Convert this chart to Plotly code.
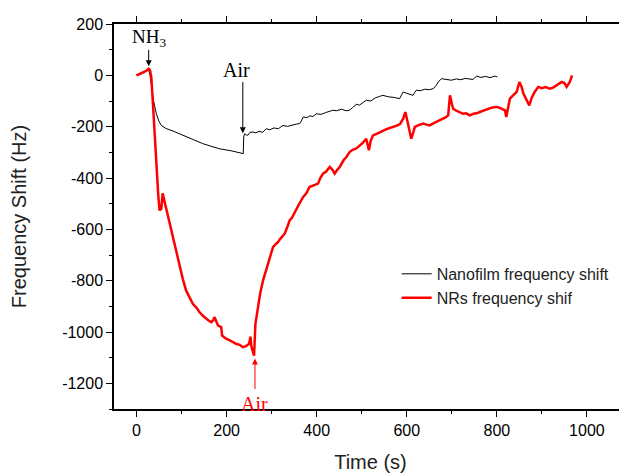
import plotly.graph_objects as go

# Nanofilm frequency shift (black)
film_t = [0, 10, 20, 27, 30, 33, 38, 44, 50, 55, 65, 81, 95, 110, 130, 147, 165, 184, 210, 236, 237, 238, 240, 244, 247, 252, 259, 265, 272, 280, 288, 296, 305, 315, 325, 335, 345, 355, 362, 366, 370, 378, 385, 392, 399, 410, 420, 430, 436, 444, 455, 465, 473, 480, 488, 495, 503, 510, 520, 530, 540, 547, 560, 572, 584, 588, 592, 600, 607, 614, 618, 621, 630, 640, 650, 659, 665, 670, 677, 690, 699, 710, 720, 730, 740, 747, 755, 765, 775, 785, 795, 801]
film_y = [0, 5, 15, 22, 0, -45, -100, -150, -180, -195, -207, -217, -228, -240, -253, -266, -276, -286, -294, -302, -305, -240, -228, -232, -234, -222, -221, -224, -218, -222, -208, -212, -205, -208, -195, -199, -193, -190, -188, -178, -162, -165, -158, -160, -150, -152, -145, -140, -136, -138, -132, -138, -136, -125, -113, -116, -104, -97, -100, -88, -82, -78, -84, -86, -91, -80, -65, -70, -75, -78, -66, -58, -60, -54, -56, -52, -40, -26, -13, -17, -19, -14, -17, -12, -16, -16, -3, -8, -4, -9, -3, -6]

# NRs frequency shift (red)
nr_t = [0, 8, 15, 22, 27, 30, 33, 36, 40, 44, 48, 51, 55, 58, 62, 66, 70, 75, 81, 88, 96, 103, 110, 118, 125, 133, 140, 148, 155, 160, 166, 170, 173, 177, 181, 185, 188, 190, 198, 207, 214, 221, 229, 236, 243, 250, 253, 255, 258, 261, 264, 270, 275, 281, 288, 296, 303, 310, 314, 320, 329, 335, 340, 345, 351, 360, 370, 377, 384, 392, 403, 408, 414, 421, 429, 435, 440, 445, 451, 460, 466, 473, 480, 488, 496, 503, 510, 516, 520, 525, 533, 540, 547, 555, 562, 570, 578, 585, 592, 597, 603, 607, 610, 614, 618, 625, 636, 644, 651, 660, 667, 673, 680, 686, 692, 696, 700, 703, 710, 718, 725, 732, 740, 748, 755, 762, 770, 776, 781, 790, 799, 806, 812, 818, 821, 825, 829, 836, 844, 850, 855, 859, 866, 872, 878, 884, 892, 900, 908, 918, 925, 932, 938, 944, 950, 955, 962, 967]
nr_y = [0, 8, 12, 18, 26, 20, -10, -97, -228, -357, -460, -526, -520, -460, -490, -526, -560, -595, -630, -690, -747, -795, -838, -865, -890, -905, -923, -938, -950, -955, -962, -955, -942, -960, -975, -978, -981, -1014, -1025, -1033, -1040, -1046, -1050, -1059, -1055, -1046, -1018, -1057, -1075, -1092, -968, -890, -845, -799, -755, -708, -669, -656, -650, -635, -617, -590, -565, -555, -533, -505, -474, -460, -435, -430, -422, -400, -383, -375, -357, -368, -383, -370, -357, -330, -318, -299, -290, -285, -273, -262, -247, -292, -255, -234, -228, -222, -214, -210, -205, -201, -196, -190, -169, -143, -188, -225, -247, -225, -201, -195, -188, -192, -195, -186, -180, -175, -170, -164, -156, -78, -110, -130, -138, -143, -150, -148, -156, -150, -148, -143, -138, -134, -130, -125, -123, -126, -132, -136, -162, -120, -91, -78, -65, -26, -45, -71, -95, -117, -85, -65, -45, -50, -46, -52, -48, -40, -35, -26, -30, -45, -26, 0]

x_ticks = [0, 200, 400, 600, 800, 1000]
y_ticks = [200, 0, -200, -400, -600, -800, -1000, -1200]
y_ticklabels = ["200", "0", "-200", "-400", "-600", "-800", "-1000", "-1200"]

fig = go.Figure()
fig.add_trace(go.Scatter(x=film_t, y=film_y, mode="lines", name="Nanofilm frequency shift",
                         line=dict(color="black", width=1)))
fig.add_trace(go.Scatter(x=nr_t, y=nr_y, mode="lines", name="NRs frequency shif",
                         line=dict(color="#ff0000", width=2.5)))

sans = "Liberation Sans, Arial, sans-serif"

fig.update_layout(
    width=619, height=465,
    margin=dict(l=106, r=0, t=16, b=64),
    plot_bgcolor="white", paper_bgcolor="white",
    font=dict(family=sans, size=16, color="black"),
    showlegend=True,
    legend=dict(x=0.551, y=0.395, xanchor="left", yanchor="top",
                bgcolor="rgba(0,0,0,0)", font=dict(family=sans, size=16, color="#222"),
                tracegroupgap=0),
    xaxis=dict(range=[-50, 1089], tickvals=x_ticks, ticks="outside", ticklen=6,
               tickwidth=1, tickcolor="black",
               showline=True, linecolor="black", linewidth=1.5, mirror="ticks",
               showgrid=False, zeroline=False,
               minor=dict(dtick=100, tick0=0, ticks="outside", ticklen=3, tickcolor="black"),
               title=dict(text="Time (s)", font=dict(family=sans, size=20, color="#222"), standoff=18),
               tickfont=dict(family=sans, size=16, color="black")),
    yaxis=dict(range=[-1300, 200], tickvals=y_ticks, ticktext=y_ticklabels,
               ticks="outside", ticklen=6, tickwidth=1, tickcolor="black",
               showline=True, linecolor="black", linewidth=1.5,
               showgrid=False, zeroline=False,
               minor=dict(dtick=100, tick0=0, ticks="outside", ticklen=3, tickcolor="black"),
               title=dict(text="Frequency Shift (Hz)", font=dict(family=sans, size=20, color="#222"), standoff=31),
               tickfont=dict(family=sans, size=16, color="black")),
)

serif = "Liberation Serif, Times New Roman, serif"
# NH3 label + arrow
fig.add_annotation(x=27, y=144, text="NH<sub>3</sub>", showarrow=False,
                   font=dict(family=serif, size=19, color="black"))
fig.add_annotation(x=27, y=35, ax=27, ay=105, axref="x", ayref="y", text="",
                   showarrow=True, arrowhead=2, arrowsize=1.2, arrowwidth=1, arrowcolor="black")
# Air (black)
fig.add_annotation(x=222, y=20, text="Air", showarrow=False,
                   font=dict(family=serif, size=20, color="black"))
fig.add_annotation(x=236, y=-226, ax=236, ay=-20, axref="x", ayref="y", text="",
                   showarrow=True, arrowhead=2, arrowsize=1.2, arrowwidth=1, arrowcolor="black")
# Air (red)
fig.add_annotation(x=262, y=-1279, text="Air", showarrow=False,
                   font=dict(family=serif, size=20, color="#ff0000"))
fig.add_annotation(x=263, y=-1103, ax=263, ay=-1228, axref="x", ayref="y", text="",
                   showarrow=True, arrowhead=2, arrowsize=1.2, arrowwidth=1, arrowcolor="#ff0000")

fig.write_html("out.html")
